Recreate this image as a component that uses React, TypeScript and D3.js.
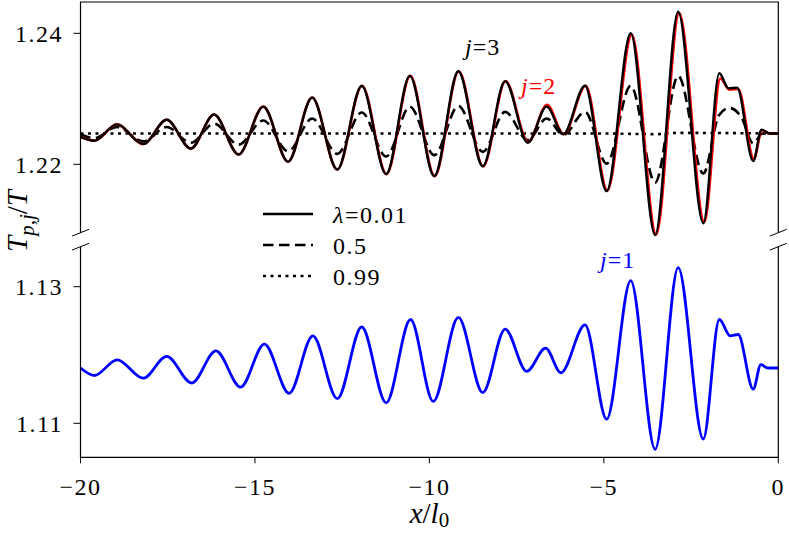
import React from 'react';
import * as d3 from 'd3';

type Pt = [number, number];

// x/l0 tick values
const xTicks = [-20, -15, -10, -5, 0];
const yTicksTop = [1.22, 1.24];
const yTicksBot = [1.11, 1.13];

// j=3, lambda=0.01 (black solid)
const j3Solid: Pt[] = [
  [-20, 1.2242], [-19.6, 1.2236], [-18.96, 1.2261], [-18.2, 1.2231], [-17.53, 1.2268],
  [-16.84, 1.2224], [-16.17, 1.2276], [-15.47, 1.2215], [-14.76, 1.2288], [-14.05, 1.2204],
  [-13.36, 1.2302], [-12.64, 1.2192], [-11.94, 1.232], [-11.24, 1.2185], [-10.56, 1.2335],
  [-9.86, 1.2182], [-9.17, 1.2342], [-8.47, 1.2197], [-7.83, 1.2327], [-7.18, 1.2233],
  [-6.64, 1.2288], [-6.16, 1.2246], [-5.54, 1.232], [-4.92, 1.2159], [-4.23, 1.24],
  [-3.53, 1.2092], [-2.87, 1.2433], [-2.15, 1.211], [-1.69, 1.2339], [-1.43, 1.2316],
  [-1.18, 1.2317], [-0.72, 1.2205], [-0.48, 1.2253], [-0.25, 1.2247], [0, 1.2247],
];

// j=2, lambda=0.01 (red solid)
const j2Solid: Pt[] = [
  [-20, 1.2242], [-19.6, 1.2236], [-18.96, 1.2261], [-18.2, 1.2231], [-17.53, 1.2268],
  [-16.84, 1.2224], [-16.17, 1.2276], [-15.47, 1.2215], [-14.76, 1.2288], [-14.05, 1.2204],
  [-13.36, 1.2302], [-12.64, 1.2192], [-11.93, 1.232], [-11.23, 1.2185], [-10.55, 1.2335],
  [-9.85, 1.2182], [-9.16, 1.2342], [-8.46, 1.2197], [-7.82, 1.2327], [-7.17, 1.2234],
  [-6.63, 1.2291], [-6.15, 1.2246], [-5.52, 1.232], [-4.9, 1.216], [-4.2, 1.2398],
  [-3.5, 1.2093], [-2.84, 1.2431], [-2.12, 1.2112], [-1.66, 1.2331], [-1.4, 1.2314],
  [-1.15, 1.2315], [-0.7, 1.2208], [-0.47, 1.2252], [-0.25, 1.2247], [0, 1.2247],
];

// j=3, lambda=0.5 (black dashed)
const j3Dashed: Pt[] = [
  [-20, 1.2246], [-19.6, 1.224], [-18.96, 1.2257], [-18.2, 1.2235], [-17.53, 1.2257],
  [-16.84, 1.2233], [-16.17, 1.2262], [-15.47, 1.223], [-14.76, 1.2267], [-14.05, 1.222],
  [-13.36, 1.227], [-12.64, 1.2216], [-11.94, 1.2279], [-11.24, 1.2212], [-10.56, 1.2288],
  [-9.86, 1.2214], [-9.17, 1.2289], [-8.47, 1.2219], [-7.83, 1.228], [-7.18, 1.2237],
  [-6.64, 1.227], [-6.16, 1.2245], [-5.54, 1.228], [-4.92, 1.2201], [-4.23, 1.232],
  [-3.53, 1.2172], [-2.87, 1.2335], [-2.15, 1.2186], [-1.7, 1.2275], [-1.4, 1.2286],
  [-1.05, 1.2271], [-0.72, 1.2232], [-0.45, 1.2247], [0, 1.2247],
];

// j=3, lambda=0.99 (black dotted)
const j3Dotted: Pt[] = [
  [-20, 1.2247], [-15, 1.2247], [-10, 1.2247], [-5, 1.2247], [-3.5, 1.2246], [-2.9, 1.2248], [0, 1.2247],
];

// j=1 (blue)
const j1Solid: Pt[] = [
  [-20, 1.1181], [-19.6, 1.117], [-18.95, 1.1193], [-18.2, 1.1166], [-17.53, 1.1198],
  [-16.81, 1.1159], [-16.12, 1.1206], [-15.41, 1.1153], [-14.73, 1.1216], [-14.02, 1.1144],
  [-13.34, 1.1228], [-12.64, 1.1136], [-11.94, 1.1241], [-11.24, 1.113], [-10.54, 1.1252],
  [-9.89, 1.1132], [-9.17, 1.1255], [-8.47, 1.1145], [-7.83, 1.1238], [-7.21, 1.1176],
  [-6.67, 1.121], [-6.23, 1.1174], [-5.54, 1.1244], [-4.92, 1.1106], [-4.23, 1.1309],
  [-3.53, 1.1062], [-2.87, 1.1328], [-2.15, 1.1077], [-1.69, 1.1252], [-1.38, 1.1228],
  [-1.15, 1.123], [-0.72, 1.115], [-0.5, 1.1186], [-0.3, 1.1181], [0, 1.1181],
];

const legendLabels = ['λ=0.01', '0.5', '0.99'];

const FONT = '"Liberation Serif", "DejaVu Serif", serif';

export default function App() {
  const left = 80.5, right = 778.3;
  const topY0 = 2, topY1 = 232.7, botY0 = 246.7, botY1 = 457.3;
  const x = d3.scaleLinear().domain([-20, 0]).range([left, right]);
  const yTop = d3.scaleLinear().domain([1.20956, 1.24478]).range([topY1, topY0]);
  const yBot = d3.scaleLinear().domain([1.10502, 1.13586]).range([botY1, botY0]);

  const lineTop = d3.line<Pt>().x(d => x(d[0])).y(d => yTop(d[1])).curve(d3.curveMonotoneX);
  const lineBot = d3.line<Pt>().x(d => x(d[0])).y(d => yBot(d[1])).curve(d3.curveMonotoneX);
  const fmt = d3.format('d');
  const fmtY = d3.format('.2f');

  const breakMark = (cx: number, cy: number, key: string) => (
    <line key={key} x1={cx - 8.5} y1={cy + 3.4} x2={cx + 8.5} y2={cy - 3.4} stroke="#000" strokeWidth={1} />
  );

  const legendStyles = [
    { dash: undefined },
    { dash: '10.5,5.5' },
    { dash: '3,4.5' },
  ];

  const TS = 24;
  const tStyle: React.CSSProperties = { fontFamily: FONT };

  return (
    <svg width={789} height={534} style={{ position: 'absolute', left: 0, top: 0, background: '#fff', fontFamily: FONT }}>
      {/* curves */}
      <path d={lineTop(j3Dotted) || ''} fill="none" stroke="#000" strokeWidth={2.6} strokeDasharray="3,4.5" />
      <path d={lineTop(j3Dashed) || ''} fill="none" stroke="#000" strokeWidth={2.6} strokeDasharray="10.5,5.5" />
      <path d={lineTop(j2Solid) || ''} fill="none" stroke="#ff0000" strokeWidth={2.6} />
      <path d={lineTop(j3Solid) || ''} fill="none" stroke="#000" strokeWidth={2.4} />
      <path d={lineBot(j1Solid) || ''} fill="none" stroke="#0000ff" strokeWidth={2.8} />

      {/* spines top panel */}
      <path d={`M${left},${topY1}V${topY0}H${right}V${topY1}`} fill="none" stroke="#000" strokeWidth={1.2} />
      {/* spines bottom panel */}
      <path d={`M${left},${botY0}V${botY1}H${right}V${botY0}`} fill="none" stroke="#000" strokeWidth={1.2} />
      {breakMark(left, topY1, 'b1')}
      {breakMark(left, botY0, 'b2')}
      {breakMark(right, topY1, 'b3')}
      {breakMark(right, botY0, 'b4')}

      {/* y ticks */}
      {yTicksTop.map(t => (
        <g key={'yt' + t}>
          <line x1={left - 7} x2={left} y1={yTop(t)} y2={yTop(t)} stroke="#000" strokeWidth={1} />
          <text style={tStyle} x={63} y={yTop(t) + 8.4} textAnchor="end" fontSize={TS} letterSpacing={1.5}>{fmtY(t)}</text>
        </g>
      ))}
      {yTicksBot.map(t => (
        <g key={'yb' + t}>
          <line x1={left - 7} x2={left} y1={yBot(t)} y2={yBot(t)} stroke="#000" strokeWidth={1} />
          <text style={tStyle} x={63} y={yBot(t) + 8.4} textAnchor="end" fontSize={TS} letterSpacing={1.5}>{fmtY(t)}</text>
        </g>
      ))}
      {/* x ticks */}
      {xTicks.map(t => (
        <g key={'x' + t}>
          <line x1={x(t)} x2={x(t)} y1={botY1} y2={botY1 + 6} stroke="#000" strokeWidth={1} />
          <text style={tStyle} x={x(t)} y={495} textAnchor="middle" fontSize={TS} letterSpacing={1.5}>{fmt(t)}</text>
        </g>
      ))}

      {/* axis labels */}
      <text style={tStyle} x={(left + right) / 2} y={523} textAnchor="middle" fontSize={29}>
        <tspan fontStyle="italic">x</tspan>/<tspan fontStyle="italic">l</tspan>
        <tspan fontSize={21} dy={4}>0</tspan>
      </text>
      <text style={tStyle} transform="translate(27,221) rotate(-90)" textAnchor="middle" fontSize={29}>
        <tspan fontStyle="italic">T</tspan>
        <tspan fontSize={21} dy={7}><tspan fontStyle="italic">p</tspan>,<tspan fontStyle="italic">j</tspan></tspan>
        <tspan dy={-7}>/</tspan><tspan fontStyle="italic">T</tspan>
      </text>

      {/* annotations */}
      <text style={tStyle} x={465} y={55} fontSize={TS} fill="#000" letterSpacing={1}><tspan fontStyle="italic">j</tspan>=3</text>
      <text style={tStyle} x={521} y={94} fontSize={TS} fill="#ff0000" letterSpacing={1}><tspan fontStyle="italic">j</tspan>=2</text>
      <text style={tStyle} x={600} y={268} fontSize={TS} fill="#0000ff" letterSpacing={1}><tspan fontStyle="italic">j</tspan>=1</text>

      {/* legend */}
      {legendLabels.map((lab, i) => {
        const ly = 214 + i * 31;
        return (
          <g key={'lg' + i}>
            <line x1={263} x2={313} y1={ly} y2={ly} stroke="#000" strokeWidth={2.6}
              strokeDasharray={legendStyles[i].dash} />
            <text style={tStyle} x={333} y={ly + 8.5} fontSize={TS} letterSpacing={1.5}>
              {i === 0 ? (<><tspan fontStyle="italic">λ</tspan>=0.01</>) : lab}
            </text>
          </g>
        );
      })}
    </svg>
  );
}
